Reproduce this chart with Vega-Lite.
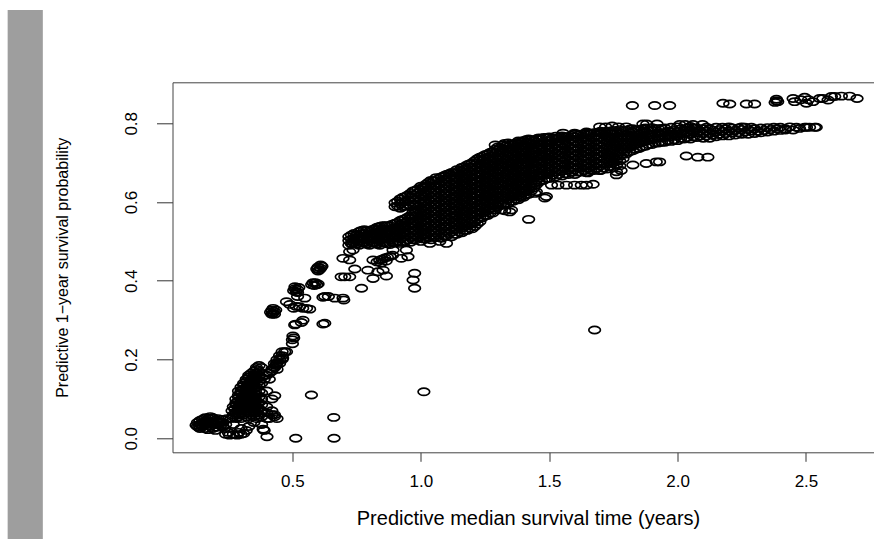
{
"$schema": "https://vega.github.io/schema/vega-lite/v6.json",
"width": 701.5,
"height": 370,
"autosize": "none",
"padding": {"left": 172.5, "top": 82.3, "right": 0, "bottom": 86.7},
"background": "white",
"config": {"view": {"stroke": null}, "font": "Liberation Sans"},
"resolve": {"axis": {"x": "independent"}},
"layer": [
{
"data": {"values": [{}]},
"mark": {"type": "rect", "color": "#9e9e9e"},
"encoding": {
"x": {"datum": -0.609, "type": "quantitative", "scale": {"domain": [0.033, 2.765], "nice": false, "zero": false}, "axis": {"orient": "top", "labels": false, "ticks": false, "domain": true, "domainColor": "#444", "domainWidth": 1, "grid": false, "title": null}},
"x2": {"datum": -0.472},
"y": {"datum": 1.088, "type": "quantitative", "scale": {"domain": [-0.0356, 0.9041], "nice": false, "zero": false}},
"y2": {"datum": -0.256}
}
},
{
"data": {"values": [
{"t":0.125,"p":0.033},{"t":0.13,"p":0.04},{"t":0.135,"p":0.028},{"t":0.14,"p":0.045},{"t":0.145,"p":0.035},{"t":0.15,"p":0.03},{"t":0.15,"p":0.048},{"t":0.155,"p":0.04},{"t":0.16,"p":0.025},{"t":0.165,"p":0.045},{"t":0.17,"p":0.035},{"t":0.175,"p":0.05},{"t":0.18,"p":0.03},{"t":0.185,"p":0.042},{"t":0.19,"p":0.052},{"t":0.195,"p":0.036},{"t":0.2,"p":0.046},{"t":0.205,"p":0.028},{"t":0.21,"p":0.05},{"t":0.215,"p":0.04},{"t":0.22,"p":0.032},{"t":0.225,"p":0.048},{"t":0.23,"p":0.04},{"t":0.14,"p":0.025},{"t":0.17,"p":0.022},{"t":0.2,"p":0.02},{"t":0.24,"p":0.035},{"t":0.245,"p":0.05},{"t":0.16,"p":0.052},{"t":0.19,"p":0.025},{"t":0.235,"p":0.025},{"t":0.13,"p":0.03},{"t":0.21,"p":0.035},{"t":0.18,"p":0.055},
{"t":0.14,"p":0.035},{"t":0.16,"p":0.035},{"t":0.18,"p":0.042},{"t":0.2,"p":0.035},{"t":0.22,"p":0.042},{"t":0.15,"p":0.04},{"t":0.17,"p":0.045},{"t":0.19,"p":0.04},{"t":0.21,"p":0.043},{"t":0.23,"p":0.03},
{"t":0.24,"p":0.01},{"t":0.255,"p":0.008},{"t":0.27,"p":0.01},{"t":0.285,"p":0.008},{"t":0.3,"p":0.01},{"t":0.31,"p":0.012},{"t":0.25,"p":0.015},{"t":0.29,"p":0.015},
{"t":0.26,"p":0.05},{"t":0.28,"p":0.05},{"t":0.30,"p":0.05},{"t":0.33,"p":0.05},{"t":0.36,"p":0.05},{"t":0.40,"p":0.05},{"t":0.44,"p":0.05},
{"t":0.27,"p":0.06},{"t":0.29,"p":0.06},{"t":0.31,"p":0.06},{"t":0.34,"p":0.06},{"t":0.37,"p":0.06},{"t":0.42,"p":0.06},
{"t":0.265,"p":0.07},{"t":0.285,"p":0.07},{"t":0.3,"p":0.07},{"t":0.32,"p":0.07},{"t":0.35,"p":0.07},{"t":0.38,"p":0.07},
{"t":0.27,"p":0.08},{"t":0.29,"p":0.08},{"t":0.31,"p":0.08},{"t":0.33,"p":0.08},{"t":0.36,"p":0.08},{"t":0.40,"p":0.08},
{"t":0.28,"p":0.09},{"t":0.3,"p":0.09},{"t":0.32,"p":0.09},{"t":0.34,"p":0.09},{"t":0.37,"p":0.09},
{"t":0.28,"p":0.1},{"t":0.3,"p":0.1},{"t":0.31,"p":0.1},{"t":0.33,"p":0.1},{"t":0.35,"p":0.1},{"t":0.38,"p":0.1},{"t":0.42,"p":0.1},
{"t":0.29,"p":0.11},{"t":0.31,"p":0.11},{"t":0.33,"p":0.11},{"t":0.36,"p":0.11},
{"t":0.29,"p":0.12},{"t":0.3,"p":0.12},{"t":0.32,"p":0.12},{"t":0.34,"p":0.12},{"t":0.37,"p":0.12},{"t":0.4,"p":0.12},
{"t":0.3,"p":0.13},{"t":0.32,"p":0.13},{"t":0.34,"p":0.13},{"t":0.36,"p":0.13},
{"t":0.31,"p":0.14},{"t":0.33,"p":0.14},{"t":0.35,"p":0.14},{"t":0.38,"p":0.14},
{"t":0.32,"p":0.15},{"t":0.34,"p":0.15},{"t":0.36,"p":0.15},{"t":0.39,"p":0.15},{"t":0.41,"p":0.15},
{"t":0.33,"p":0.16},{"t":0.35,"p":0.16},{"t":0.37,"p":0.16},{"t":0.4,"p":0.16},
{"t":0.35,"p":0.17},{"t":0.37,"p":0.17},{"t":0.42,"p":0.17},
{"t":0.36,"p":0.18},{"t":0.38,"p":0.18},{"t":0.43,"p":0.18},
{"t":0.43,"p":0.19},{"t":0.44,"p":0.19},{"t":0.45,"p":0.19},
{"t":0.44,"p":0.2},{"t":0.45,"p":0.2},{"t":0.46,"p":0.2},
{"t":0.45,"p":0.21},{"t":0.46,"p":0.21},{"t":0.46,"p":0.22},{"t":0.47,"p":0.22},
{"t":0.27,"p":0.055},{"t":0.29,"p":0.055},{"t":0.32,"p":0.055},{"t":0.35,"p":0.055},{"t":0.38,"p":0.055},{"t":0.43,"p":0.055},
{"t":0.28,"p":0.065},{"t":0.30,"p":0.065},{"t":0.33,"p":0.065},{"t":0.36,"p":0.065},{"t":0.40,"p":0.065},
{"t":0.275,"p":0.075},{"t":0.295,"p":0.075},{"t":0.31,"p":0.075},{"t":0.34,"p":0.075},{"t":0.37,"p":0.075},
{"t":0.28,"p":0.085},{"t":0.30,"p":0.085},{"t":0.32,"p":0.085},{"t":0.35,"p":0.085},{"t":0.38,"p":0.085},
{"t":0.29,"p":0.095},{"t":0.31,"p":0.095},{"t":0.33,"p":0.095},{"t":0.36,"p":0.095},
{"t":0.29,"p":0.105},{"t":0.32,"p":0.105},{"t":0.34,"p":0.105},{"t":0.37,"p":0.105},
{"t":0.30,"p":0.115},{"t":0.32,"p":0.115},{"t":0.35,"p":0.115},{"t":0.38,"p":0.115},
{"t":0.31,"p":0.125},{"t":0.33,"p":0.125},{"t":0.35,"p":0.125},
{"t":0.31,"p":0.135},{"t":0.33,"p":0.135},{"t":0.35,"p":0.135},{"t":0.37,"p":0.135},
{"t":0.32,"p":0.145},{"t":0.34,"p":0.145},{"t":0.37,"p":0.145},
{"t":0.33,"p":0.155},{"t":0.35,"p":0.155},{"t":0.38,"p":0.155},
{"t":0.34,"p":0.165},{"t":0.36,"p":0.165},{"t":0.41,"p":0.165},
{"t":0.36,"p":0.175},{"t":0.42,"p":0.175},{"t":0.37,"p":0.185},{"t":0.435,"p":0.185},
{"t":0.33,"p":0.03},{"t":0.35,"p":0.04},{"t":0.3,"p":0.025},{"t":0.38,"p":0.035},{"t":0.27,"p":0.035},{"t":0.32,"p":0.02},{"t":0.39,"p":0.02},{"t":0.401,"p":0.004},{"t":0.386,"p":0.023},{"t":0.431,"p":0.108},{"t":0.574,"p":0.11},{"t":0.513,"p":0.0},{"t":0.662,"p":0.0},{"t":0.661,"p":0.053},{"t":0.42,"p":0.07},{"t":0.41,"p":0.05},{"t":0.43,"p":0.06},{"t":1.012,"p":0.118},{"t":1.677,"p":0.275},
{"t":0.43,"p":0.18},{"t":0.44,"p":0.175},{"t":0.462,"p":0.204},{"t":0.477,"p":0.22},{"t":0.438,"p":0.19},{"t":0.5,"p":0.24},{"t":0.5,"p":0.25},{"t":0.505,"p":0.255},{"t":0.502,"p":0.26},{"t":0.509,"p":0.288},{"t":0.513,"p":0.29},{"t":0.535,"p":0.294},{"t":0.541,"p":0.3},{"t":0.619,"p":0.29},{"t":0.626,"p":0.292},
{"t":0.415,"p":0.32},{"t":0.42,"p":0.325},{"t":0.425,"p":0.318},{"t":0.43,"p":0.322},{"t":0.435,"p":0.326},{"t":0.425,"p":0.33},{"t":0.42,"p":0.315},{"t":0.43,"p":0.315},
{"t":0.477,"p":0.347},{"t":0.49,"p":0.34},{"t":0.505,"p":0.33},{"t":0.515,"p":0.335},{"t":0.528,"p":0.334},{"t":0.54,"p":0.33},{"t":0.555,"p":0.33},{"t":0.567,"p":0.328},{"t":0.548,"p":0.356},{"t":0.52,"p":0.36},{"t":0.619,"p":0.358},{"t":0.665,"p":0.356},{"t":0.70,"p":0.351},{"t":0.64,"p":0.36},{"t":0.626,"p":0.36},{"t":0.697,"p":0.356},
{"t":0.505,"p":0.375},{"t":0.51,"p":0.38},{"t":0.515,"p":0.372},{"t":0.52,"p":0.378},{"t":0.525,"p":0.383},{"t":0.51,"p":0.385},{"t":0.52,"p":0.37},
{"t":0.575,"p":0.39},{"t":0.58,"p":0.395},{"t":0.585,"p":0.388},{"t":0.59,"p":0.395},{"t":0.595,"p":0.39},{"t":0.6,"p":0.392},
{"t":0.595,"p":0.43},{"t":0.6,"p":0.435},{"t":0.605,"p":0.428},{"t":0.61,"p":0.432},{"t":0.615,"p":0.437},{"t":0.6,"p":0.425},{"t":0.61,"p":0.44},
{"t":0.69,"p":0.41},{"t":0.704,"p":0.41},{"t":0.723,"p":0.41},{"t":0.743,"p":0.43},{"t":0.723,"p":0.474},{"t":0.73,"p":0.495},{"t":0.736,"p":0.478},{"t":0.723,"p":0.453},{"t":0.697,"p":0.457},{"t":0.736,"p":0.50},
{"t":0.794,"p":0.427},{"t":0.853,"p":0.427},{"t":0.814,"p":0.406},{"t":0.833,"p":0.423},{"t":0.866,"p":0.412},{"t":0.769,"p":0.381},
{"t":0.83,"p":0.448},{"t":0.84,"p":0.452},{"t":0.85,"p":0.455},{"t":0.86,"p":0.458},{"t":0.87,"p":0.46},{"t":0.88,"p":0.462},{"t":0.845,"p":0.445},{"t":0.865,"p":0.45},{"t":0.89,"p":0.465},{"t":0.814,"p":0.453},
{"t":0.976,"p":0.419},{"t":0.970,"p":0.402},{"t":0.976,"p":0.381},{"t":0.924,"p":0.457},{"t":0.950,"p":0.461},{"t":0.892,"p":0.478},{"t":0.944,"p":0.478},{"t":1.10,"p":0.495},{"t":1.035,"p":0.495},{"t":1.074,"p":0.5},
{"t":0.72,"p":0.49},{"t":0.72,"p":0.502},{"t":0.72,"p":0.512},
{"t":0.74,"p":0.496},{"t":0.74,"p":0.508},{"t":0.74,"p":0.52},
{"t":0.76,"p":0.49},{"t":0.76,"p":0.502},{"t":0.76,"p":0.514},{"t":0.76,"p":0.525},
{"t":0.78,"p":0.496},{"t":0.78,"p":0.508},{"t":0.78,"p":0.52},{"t":0.78,"p":0.53},
{"t":0.80,"p":0.49},{"t":0.80,"p":0.502},{"t":0.80,"p":0.514},{"t":0.80,"p":0.526},
{"t":0.82,"p":0.496},{"t":0.82,"p":0.508},{"t":0.82,"p":0.52},{"t":0.82,"p":0.532},
{"t":0.84,"p":0.49},{"t":0.84,"p":0.502},{"t":0.84,"p":0.514},{"t":0.84,"p":0.526},{"t":0.84,"p":0.538},
{"t":0.86,"p":0.496},{"t":0.86,"p":0.508},{"t":0.86,"p":0.52},{"t":0.86,"p":0.532},{"t":0.86,"p":0.54},
{"t":0.88,"p":0.492},{"t":0.88,"p":0.504},{"t":0.88,"p":0.516},{"t":0.88,"p":0.528},{"t":0.88,"p":0.54},
{"t":0.90,"p":0.498},{"t":0.90,"p":0.51},{"t":0.90,"p":0.522},{"t":0.90,"p":0.534},{"t":0.90,"p":0.546},{"t":0.90,"p":0.588},{"t":0.90,"p":0.598},
{"t":0.92,"p":0.495},{"t":0.92,"p":0.507},{"t":0.92,"p":0.519},{"t":0.92,"p":0.531},{"t":0.92,"p":0.543},{"t":0.92,"p":0.553},{"t":0.92,"p":0.584},{"t":0.92,"p":0.596},{"t":0.92,"p":0.608},
{"t":0.94,"p":0.5},{"t":0.94,"p":0.512},{"t":0.94,"p":0.524},{"t":0.94,"p":0.536},{"t":0.94,"p":0.548},{"t":0.94,"p":0.558},{"t":0.94,"p":0.59},{"t":0.94,"p":0.602},{"t":0.94,"p":0.614},
{"t":0.96,"p":0.498},{"t":0.96,"p":0.51},{"t":0.96,"p":0.522},{"t":0.96,"p":0.534},{"t":0.96,"p":0.546},{"t":0.96,"p":0.558},{"t":0.96,"p":0.566},{"t":0.96,"p":0.588},{"t":0.96,"p":0.6},{"t":0.96,"p":0.612},{"t":0.96,"p":0.622},
{"t":0.98,"p":0.504},{"t":0.98,"p":0.516},{"t":0.98,"p":0.528},{"t":0.98,"p":0.54},{"t":0.98,"p":0.552},{"t":0.98,"p":0.564},{"t":0.98,"p":0.576},{"t":0.98,"p":0.594},{"t":0.98,"p":0.606},{"t":0.98,"p":0.618},{"t":0.98,"p":0.63},
{"t":1.0,"p":0.5},{"t":1.0,"p":0.512},{"t":1.0,"p":0.524},{"t":1.0,"p":0.536},{"t":1.0,"p":0.548},{"t":1.0,"p":0.56},{"t":1.0,"p":0.572},{"t":1.0,"p":0.584},{"t":1.0,"p":0.596},{"t":1.0,"p":0.608},{"t":1.0,"p":0.62},{"t":1.0,"p":0.632},{"t":1.0,"p":0.64},
{"t":1.02,"p":0.506},{"t":1.02,"p":0.518},{"t":1.02,"p":0.53},{"t":1.02,"p":0.542},{"t":1.02,"p":0.554},{"t":1.02,"p":0.566},{"t":1.02,"p":0.578},{"t":1.02,"p":0.59},{"t":1.02,"p":0.602},{"t":1.02,"p":0.614},{"t":1.02,"p":0.626},{"t":1.02,"p":0.638},{"t":1.02,"p":0.645},
{"t":1.04,"p":0.504},{"t":1.04,"p":0.516},{"t":1.04,"p":0.528},{"t":1.04,"p":0.54},{"t":1.04,"p":0.552},{"t":1.04,"p":0.564},{"t":1.04,"p":0.576},{"t":1.04,"p":0.588},{"t":1.04,"p":0.6},{"t":1.04,"p":0.612},{"t":1.04,"p":0.624},{"t":1.04,"p":0.636},{"t":1.04,"p":0.648},{"t":1.04,"p":0.655},
{"t":1.06,"p":0.51},{"t":1.06,"p":0.522},{"t":1.06,"p":0.534},{"t":1.06,"p":0.546},{"t":1.06,"p":0.558},{"t":1.06,"p":0.57},{"t":1.06,"p":0.582},{"t":1.06,"p":0.594},{"t":1.06,"p":0.606},{"t":1.06,"p":0.618},{"t":1.06,"p":0.63},{"t":1.06,"p":0.642},{"t":1.06,"p":0.654},{"t":1.06,"p":0.662},
{"t":1.08,"p":0.508},{"t":1.08,"p":0.52},{"t":1.08,"p":0.532},{"t":1.08,"p":0.544},{"t":1.08,"p":0.556},{"t":1.08,"p":0.568},{"t":1.08,"p":0.58},{"t":1.08,"p":0.592},{"t":1.08,"p":0.604},{"t":1.08,"p":0.616},{"t":1.08,"p":0.628},{"t":1.08,"p":0.64},{"t":1.08,"p":0.652},{"t":1.08,"p":0.664},
{"t":1.1,"p":0.514},{"t":1.1,"p":0.526},{"t":1.1,"p":0.538},{"t":1.1,"p":0.55},{"t":1.1,"p":0.562},{"t":1.1,"p":0.574},{"t":1.1,"p":0.586},{"t":1.1,"p":0.598},{"t":1.1,"p":0.61},{"t":1.1,"p":0.622},{"t":1.1,"p":0.634},{"t":1.1,"p":0.646},{"t":1.1,"p":0.658},{"t":1.1,"p":0.67},
{"t":1.12,"p":0.512},{"t":1.12,"p":0.524},{"t":1.12,"p":0.536},{"t":1.12,"p":0.548},{"t":1.12,"p":0.56},{"t":1.12,"p":0.572},{"t":1.12,"p":0.584},{"t":1.12,"p":0.596},{"t":1.12,"p":0.608},{"t":1.12,"p":0.62},{"t":1.12,"p":0.632},{"t":1.12,"p":0.644},{"t":1.12,"p":0.656},{"t":1.12,"p":0.668},{"t":1.12,"p":0.675},
{"t":1.14,"p":0.518},{"t":1.14,"p":0.53},{"t":1.14,"p":0.542},{"t":1.14,"p":0.554},{"t":1.14,"p":0.566},{"t":1.14,"p":0.578},{"t":1.14,"p":0.59},{"t":1.14,"p":0.602},{"t":1.14,"p":0.614},{"t":1.14,"p":0.626},{"t":1.14,"p":0.638},{"t":1.14,"p":0.65},{"t":1.14,"p":0.662},{"t":1.14,"p":0.674},{"t":1.14,"p":0.682},
{"t":1.16,"p":0.522},{"t":1.16,"p":0.534},{"t":1.16,"p":0.546},{"t":1.16,"p":0.558},{"t":1.16,"p":0.57},{"t":1.16,"p":0.582},{"t":1.16,"p":0.594},{"t":1.16,"p":0.606},{"t":1.16,"p":0.618},{"t":1.16,"p":0.63},{"t":1.16,"p":0.642},{"t":1.16,"p":0.654},{"t":1.16,"p":0.666},{"t":1.16,"p":0.678},{"t":1.16,"p":0.688},
{"t":1.18,"p":0.528},{"t":1.18,"p":0.54},{"t":1.18,"p":0.552},{"t":1.18,"p":0.564},{"t":1.18,"p":0.576},{"t":1.18,"p":0.588},{"t":1.18,"p":0.6},{"t":1.18,"p":0.612},{"t":1.18,"p":0.624},{"t":1.18,"p":0.636},{"t":1.18,"p":0.648},{"t":1.18,"p":0.66},{"t":1.18,"p":0.672},{"t":1.18,"p":0.684},{"t":1.18,"p":0.694},
{"t":1.2,"p":0.532},{"t":1.2,"p":0.544},{"t":1.2,"p":0.556},{"t":1.2,"p":0.568},{"t":1.2,"p":0.58},{"t":1.2,"p":0.592},{"t":1.2,"p":0.604},{"t":1.2,"p":0.616},{"t":1.2,"p":0.628},{"t":1.2,"p":0.64},{"t":1.2,"p":0.652},{"t":1.2,"p":0.664},{"t":1.2,"p":0.676},{"t":1.2,"p":0.688},{"t":1.2,"p":0.7},
{"t":1.22,"p":0.544},{"t":1.22,"p":0.556},{"t":1.22,"p":0.568},{"t":1.22,"p":0.58},{"t":1.22,"p":0.592},{"t":1.22,"p":0.604},{"t":1.22,"p":0.616},{"t":1.22,"p":0.628},{"t":1.22,"p":0.64},{"t":1.22,"p":0.652},{"t":1.22,"p":0.664},{"t":1.22,"p":0.676},{"t":1.22,"p":0.688},{"t":1.22,"p":0.7},{"t":1.22,"p":0.71},
{"t":1.24,"p":0.56},{"t":1.24,"p":0.572},{"t":1.24,"p":0.584},{"t":1.24,"p":0.596},{"t":1.24,"p":0.608},{"t":1.24,"p":0.62},{"t":1.24,"p":0.632},{"t":1.24,"p":0.644},{"t":1.24,"p":0.656},{"t":1.24,"p":0.668},{"t":1.24,"p":0.68},{"t":1.24,"p":0.692},{"t":1.24,"p":0.704},{"t":1.24,"p":0.716},
{"t":1.26,"p":0.566},{"t":1.26,"p":0.578},{"t":1.26,"p":0.59},{"t":1.26,"p":0.602},{"t":1.26,"p":0.614},{"t":1.26,"p":0.626},{"t":1.26,"p":0.638},{"t":1.26,"p":0.65},{"t":1.26,"p":0.662},{"t":1.26,"p":0.674},{"t":1.26,"p":0.686},{"t":1.26,"p":0.698},{"t":1.26,"p":0.71},{"t":1.26,"p":0.722},
{"t":1.28,"p":0.572},{"t":1.28,"p":0.584},{"t":1.28,"p":0.596},{"t":1.28,"p":0.608},{"t":1.28,"p":0.62},{"t":1.28,"p":0.632},{"t":1.28,"p":0.644},{"t":1.28,"p":0.656},{"t":1.28,"p":0.668},{"t":1.28,"p":0.68},{"t":1.28,"p":0.692},{"t":1.28,"p":0.704},{"t":1.28,"p":0.716},{"t":1.28,"p":0.728},
{"t":1.3,"p":0.588},{"t":1.3,"p":0.6},{"t":1.3,"p":0.612},{"t":1.3,"p":0.624},{"t":1.3,"p":0.636},{"t":1.3,"p":0.648},{"t":1.3,"p":0.66},{"t":1.3,"p":0.672},{"t":1.3,"p":0.684},{"t":1.3,"p":0.696},{"t":1.3,"p":0.708},{"t":1.3,"p":0.72},{"t":1.3,"p":0.732},{"t":1.3,"p":0.74},
{"t":1.32,"p":0.592},{"t":1.32,"p":0.604},{"t":1.32,"p":0.616},{"t":1.32,"p":0.628},{"t":1.32,"p":0.64},{"t":1.32,"p":0.652},{"t":1.32,"p":0.664},{"t":1.32,"p":0.676},{"t":1.32,"p":0.688},{"t":1.32,"p":0.7},{"t":1.32,"p":0.712},{"t":1.32,"p":0.724},{"t":1.32,"p":0.736},{"t":1.32,"p":0.745},
{"t":1.34,"p":0.596},{"t":1.34,"p":0.608},{"t":1.34,"p":0.62},{"t":1.34,"p":0.632},{"t":1.34,"p":0.644},{"t":1.34,"p":0.656},{"t":1.34,"p":0.668},{"t":1.34,"p":0.68},{"t":1.34,"p":0.692},{"t":1.34,"p":0.704},{"t":1.34,"p":0.716},{"t":1.34,"p":0.728},{"t":1.34,"p":0.74},{"t":1.34,"p":0.75},
{"t":1.36,"p":0.602},{"t":1.36,"p":0.614},{"t":1.36,"p":0.626},{"t":1.36,"p":0.638},{"t":1.36,"p":0.65},{"t":1.36,"p":0.662},{"t":1.36,"p":0.674},{"t":1.36,"p":0.686},{"t":1.36,"p":0.698},{"t":1.36,"p":0.71},{"t":1.36,"p":0.722},{"t":1.36,"p":0.734},{"t":1.36,"p":0.746},
{"t":1.38,"p":0.606},{"t":1.38,"p":0.618},{"t":1.38,"p":0.63},{"t":1.38,"p":0.642},{"t":1.38,"p":0.654},{"t":1.38,"p":0.666},{"t":1.38,"p":0.678},{"t":1.38,"p":0.69},{"t":1.38,"p":0.702},{"t":1.38,"p":0.714},{"t":1.38,"p":0.726},{"t":1.38,"p":0.738},{"t":1.38,"p":0.75},{"t":1.38,"p":0.755},
{"t":1.4,"p":0.612},{"t":1.4,"p":0.624},{"t":1.4,"p":0.636},{"t":1.4,"p":0.648},{"t":1.4,"p":0.66},{"t":1.4,"p":0.672},{"t":1.4,"p":0.684},{"t":1.4,"p":0.696},{"t":1.4,"p":0.708},{"t":1.4,"p":0.72},{"t":1.4,"p":0.732},{"t":1.4,"p":0.744},{"t":1.4,"p":0.756},
{"t":1.42,"p":0.62},{"t":1.42,"p":0.632},{"t":1.42,"p":0.644},{"t":1.42,"p":0.656},{"t":1.42,"p":0.668},{"t":1.42,"p":0.68},{"t":1.42,"p":0.692},{"t":1.42,"p":0.704},{"t":1.42,"p":0.716},{"t":1.42,"p":0.728},{"t":1.42,"p":0.74},{"t":1.42,"p":0.752},{"t":1.42,"p":0.76},
{"t":1.44,"p":0.636},{"t":1.44,"p":0.648},{"t":1.44,"p":0.66},{"t":1.44,"p":0.672},{"t":1.44,"p":0.684},{"t":1.44,"p":0.696},{"t":1.44,"p":0.708},{"t":1.44,"p":0.72},{"t":1.44,"p":0.732},{"t":1.44,"p":0.744},{"t":1.44,"p":0.756},
{"t":1.46,"p":0.65},{"t":1.46,"p":0.662},{"t":1.46,"p":0.674},{"t":1.46,"p":0.686},{"t":1.46,"p":0.698},{"t":1.46,"p":0.71},{"t":1.46,"p":0.722},{"t":1.46,"p":0.734},{"t":1.46,"p":0.746},{"t":1.46,"p":0.758},{"t":1.46,"p":0.763},
{"t":1.48,"p":0.656},{"t":1.48,"p":0.668},{"t":1.48,"p":0.68},{"t":1.48,"p":0.692},{"t":1.48,"p":0.704},{"t":1.48,"p":0.716},{"t":1.48,"p":0.728},{"t":1.48,"p":0.74},{"t":1.48,"p":0.752},{"t":1.48,"p":0.764},
{"t":1.5,"p":0.66},{"t":1.5,"p":0.672},{"t":1.5,"p":0.684},{"t":1.5,"p":0.696},{"t":1.5,"p":0.708},{"t":1.5,"p":0.72},{"t":1.5,"p":0.732},{"t":1.5,"p":0.744},{"t":1.5,"p":0.756},{"t":1.5,"p":0.765},
{"t":1.525,"p":0.664},{"t":1.525,"p":0.676},{"t":1.525,"p":0.688},{"t":1.525,"p":0.7},{"t":1.525,"p":0.712},{"t":1.525,"p":0.724},{"t":1.525,"p":0.736},{"t":1.525,"p":0.748},{"t":1.525,"p":0.76},{"t":1.525,"p":0.767},
{"t":1.55,"p":0.666},{"t":1.55,"p":0.678},{"t":1.55,"p":0.69},{"t":1.55,"p":0.702},{"t":1.55,"p":0.714},{"t":1.55,"p":0.726},{"t":1.55,"p":0.738},{"t":1.55,"p":0.75},{"t":1.55,"p":0.762},{"t":1.55,"p":0.768},
{"t":1.575,"p":0.67},{"t":1.575,"p":0.682},{"t":1.575,"p":0.694},{"t":1.575,"p":0.706},{"t":1.575,"p":0.718},{"t":1.575,"p":0.73},{"t":1.575,"p":0.742},{"t":1.575,"p":0.754},{"t":1.575,"p":0.766},
{"t":1.6,"p":0.67},{"t":1.6,"p":0.682},{"t":1.6,"p":0.694},{"t":1.6,"p":0.706},{"t":1.6,"p":0.718},{"t":1.6,"p":0.73},{"t":1.6,"p":0.742},{"t":1.6,"p":0.754},{"t":1.6,"p":0.766},{"t":1.6,"p":0.772},
{"t":1.625,"p":0.676},{"t":1.625,"p":0.688},{"t":1.625,"p":0.7},{"t":1.625,"p":0.712},{"t":1.625,"p":0.724},{"t":1.625,"p":0.736},{"t":1.625,"p":0.748},{"t":1.625,"p":0.76},{"t":1.625,"p":0.772},
{"t":1.65,"p":0.674},{"t":1.65,"p":0.686},{"t":1.65,"p":0.698},{"t":1.65,"p":0.71},{"t":1.65,"p":0.722},{"t":1.65,"p":0.734},{"t":1.65,"p":0.746},{"t":1.65,"p":0.758},{"t":1.65,"p":0.77},{"t":1.65,"p":0.776},
{"t":1.675,"p":0.68},{"t":1.675,"p":0.692},{"t":1.675,"p":0.704},{"t":1.675,"p":0.716},{"t":1.675,"p":0.728},{"t":1.675,"p":0.74},{"t":1.675,"p":0.752},{"t":1.675,"p":0.764},{"t":1.675,"p":0.776},
{"t":1.7,"p":0.68},{"t":1.7,"p":0.692},{"t":1.7,"p":0.704},{"t":1.7,"p":0.716},{"t":1.7,"p":0.728},{"t":1.7,"p":0.74},{"t":1.7,"p":0.752},{"t":1.7,"p":0.764},{"t":1.7,"p":0.776},{"t":1.7,"p":0.78},
{"t":1.725,"p":0.684},{"t":1.725,"p":0.696},{"t":1.725,"p":0.708},{"t":1.725,"p":0.72},{"t":1.725,"p":0.732},{"t":1.725,"p":0.744},{"t":1.725,"p":0.756},{"t":1.725,"p":0.768},{"t":1.725,"p":0.78},
{"t":1.75,"p":0.688},{"t":1.75,"p":0.7},{"t":1.75,"p":0.712},{"t":1.75,"p":0.724},{"t":1.75,"p":0.736},{"t":1.75,"p":0.748},{"t":1.75,"p":0.76},{"t":1.75,"p":0.772},{"t":1.75,"p":0.782},
{"t":1.775,"p":0.692},{"t":1.775,"p":0.704},{"t":1.775,"p":0.716},{"t":1.775,"p":0.728},{"t":1.775,"p":0.74},{"t":1.775,"p":0.752},{"t":1.775,"p":0.764},{"t":1.775,"p":0.776},{"t":1.775,"p":0.784},
{"t":1.8,"p":0.722},{"t":1.8,"p":0.734},{"t":1.8,"p":0.746},{"t":1.8,"p":0.758},{"t":1.8,"p":0.77},{"t":1.8,"p":0.782},
{"t":1.825,"p":0.73},{"t":1.825,"p":0.742},{"t":1.825,"p":0.754},{"t":1.825,"p":0.766},{"t":1.825,"p":0.778},{"t":1.825,"p":0.786},
{"t":1.85,"p":0.736},{"t":1.85,"p":0.748},{"t":1.85,"p":0.76},{"t":1.85,"p":0.772},{"t":1.85,"p":0.784},
{"t":1.875,"p":0.742},{"t":1.875,"p":0.754},{"t":1.875,"p":0.766},{"t":1.875,"p":0.778},{"t":1.875,"p":0.788},
{"t":1.9,"p":0.746},{"t":1.9,"p":0.758},{"t":1.9,"p":0.77},{"t":1.9,"p":0.782},{"t":1.9,"p":0.789},
{"t":1.925,"p":0.75},{"t":1.925,"p":0.762},{"t":1.925,"p":0.774},{"t":1.925,"p":0.786},
{"t":1.95,"p":0.752},{"t":1.95,"p":0.764},{"t":1.95,"p":0.776},{"t":1.95,"p":0.788},
{"t":1.975,"p":0.754},{"t":1.975,"p":0.766},{"t":1.975,"p":0.778},{"t":1.975,"p":0.79},
{"t":2.0,"p":0.756},{"t":2.0,"p":0.768},{"t":2.0,"p":0.78},{"t":2.0,"p":0.791},
{"t":2.025,"p":0.76},{"t":2.025,"p":0.772},{"t":2.025,"p":0.784},
{"t":2.05,"p":0.76},{"t":2.05,"p":0.772},{"t":2.05,"p":0.784},{"t":2.05,"p":0.792},
{"t":2.075,"p":0.764},{"t":2.075,"p":0.776},{"t":2.075,"p":0.788},
{"t":2.1,"p":0.762},{"t":2.1,"p":0.774},{"t":2.1,"p":0.786},
{"t":2.125,"p":0.762},{"t":2.125,"p":0.774},{"t":2.125,"p":0.786},
{"t":2.15,"p":0.766},{"t":2.15,"p":0.778},{"t":2.15,"p":0.79},
{"t":2.175,"p":0.768},{"t":2.175,"p":0.78},{"t":2.175,"p":0.79},
{"t":2.2,"p":0.768},{"t":2.2,"p":0.78},{"t":2.2,"p":0.791},
{"t":2.225,"p":0.77},{"t":2.225,"p":0.782},
{"t":2.25,"p":0.772},{"t":2.25,"p":0.784},{"t":2.25,"p":0.791},
{"t":2.275,"p":0.772},{"t":2.275,"p":0.784},
{"t":2.3,"p":0.774},{"t":2.3,"p":0.786},
{"t":2.325,"p":0.776},{"t":2.325,"p":0.788},
{"t":2.35,"p":0.778},{"t":2.35,"p":0.789},
{"t":2.375,"p":0.78},{"t":2.375,"p":0.79},
{"t":2.4,"p":0.782},{"t":2.42,"p":0.786},
{"t":0.73,"p":0.494},{"t":0.73,"p":0.506},{"t":0.73,"p":0.516},
{"t":0.75,"p":0.493},{"t":0.75,"p":0.505},{"t":0.75,"p":0.517},
{"t":0.77,"p":0.496},{"t":0.77,"p":0.508},{"t":0.77,"p":0.52},{"t":0.77,"p":0.528},
{"t":0.79,"p":0.493},{"t":0.79,"p":0.505},{"t":0.79,"p":0.517},{"t":0.79,"p":0.528},
{"t":0.81,"p":0.496},{"t":0.81,"p":0.508},{"t":0.81,"p":0.52},{"t":0.81,"p":0.53},
{"t":0.83,"p":0.493},{"t":0.83,"p":0.505},{"t":0.83,"p":0.517},{"t":0.83,"p":0.529},{"t":0.83,"p":0.536},
{"t":0.85,"p":0.496},{"t":0.85,"p":0.508},{"t":0.85,"p":0.52},{"t":0.85,"p":0.532},{"t":0.85,"p":0.54},
{"t":0.87,"p":0.494},{"t":0.87,"p":0.506},{"t":0.87,"p":0.518},{"t":0.87,"p":0.53},{"t":0.87,"p":0.54},
{"t":0.89,"p":0.498},{"t":0.89,"p":0.51},{"t":0.89,"p":0.522},{"t":0.89,"p":0.534},{"t":0.89,"p":0.544},
{"t":0.91,"p":0.5},{"t":0.91,"p":0.512},{"t":0.91,"p":0.524},{"t":0.91,"p":0.536},{"t":0.91,"p":0.548},{"t":0.91,"p":0.59},{"t":0.91,"p":0.602},
{"t":0.93,"p":0.498},{"t":0.93,"p":0.51},{"t":0.93,"p":0.522},{"t":0.93,"p":0.534},{"t":0.93,"p":0.546},{"t":0.93,"p":0.556},{"t":0.93,"p":0.588},{"t":0.93,"p":0.6},{"t":0.93,"p":0.612},
{"t":0.95,"p":0.504},{"t":0.95,"p":0.516},{"t":0.95,"p":0.528},{"t":0.95,"p":0.54},{"t":0.95,"p":0.552},{"t":0.95,"p":0.562},{"t":0.95,"p":0.594},{"t":0.95,"p":0.606},{"t":0.95,"p":0.618},
{"t":0.97,"p":0.504},{"t":0.97,"p":0.516},{"t":0.97,"p":0.528},{"t":0.97,"p":0.54},{"t":0.97,"p":0.552},{"t":0.97,"p":0.564},{"t":0.97,"p":0.574},{"t":0.97,"p":0.594},{"t":0.97,"p":0.606},{"t":0.97,"p":0.618},{"t":0.97,"p":0.628},
{"t":0.99,"p":0.51},{"t":0.99,"p":0.522},{"t":0.99,"p":0.534},{"t":0.99,"p":0.546},{"t":0.99,"p":0.558},{"t":0.99,"p":0.57},{"t":0.99,"p":0.582},{"t":0.99,"p":0.6},{"t":0.99,"p":0.612},{"t":0.99,"p":0.624},{"t":0.99,"p":0.634},
{"t":1.01,"p":0.506},{"t":1.01,"p":0.518},{"t":1.01,"p":0.53},{"t":1.01,"p":0.542},{"t":1.01,"p":0.554},{"t":1.01,"p":0.566},{"t":1.01,"p":0.578},{"t":1.01,"p":0.59},{"t":1.01,"p":0.602},{"t":1.01,"p":0.614},{"t":1.01,"p":0.626},{"t":1.01,"p":0.638},
{"t":1.03,"p":0.51},{"t":1.03,"p":0.522},{"t":1.03,"p":0.534},{"t":1.03,"p":0.546},{"t":1.03,"p":0.558},{"t":1.03,"p":0.57},{"t":1.03,"p":0.582},{"t":1.03,"p":0.594},{"t":1.03,"p":0.606},{"t":1.03,"p":0.618},{"t":1.03,"p":0.63},{"t":1.03,"p":0.642},{"t":1.03,"p":0.65},
{"t":1.05,"p":0.51},{"t":1.05,"p":0.522},{"t":1.05,"p":0.534},{"t":1.05,"p":0.546},{"t":1.05,"p":0.558},{"t":1.05,"p":0.57},{"t":1.05,"p":0.582},{"t":1.05,"p":0.594},{"t":1.05,"p":0.606},{"t":1.05,"p":0.618},{"t":1.05,"p":0.63},{"t":1.05,"p":0.642},{"t":1.05,"p":0.654},
{"t":1.07,"p":0.516},{"t":1.07,"p":0.528},{"t":1.07,"p":0.54},{"t":1.07,"p":0.552},{"t":1.07,"p":0.564},{"t":1.07,"p":0.576},{"t":1.07,"p":0.588},{"t":1.07,"p":0.6},{"t":1.07,"p":0.612},{"t":1.07,"p":0.624},{"t":1.07,"p":0.636},{"t":1.07,"p":0.648},{"t":1.07,"p":0.66},
{"t":1.09,"p":0.514},{"t":1.09,"p":0.526},{"t":1.09,"p":0.538},{"t":1.09,"p":0.55},{"t":1.09,"p":0.562},{"t":1.09,"p":0.574},{"t":1.09,"p":0.586},{"t":1.09,"p":0.598},{"t":1.09,"p":0.61},{"t":1.09,"p":0.622},{"t":1.09,"p":0.634},{"t":1.09,"p":0.646},{"t":1.09,"p":0.658},{"t":1.09,"p":0.667},
{"t":1.11,"p":0.52},{"t":1.11,"p":0.532},{"t":1.11,"p":0.544},{"t":1.11,"p":0.556},{"t":1.11,"p":0.568},{"t":1.11,"p":0.58},{"t":1.11,"p":0.592},{"t":1.11,"p":0.604},{"t":1.11,"p":0.616},{"t":1.11,"p":0.628},{"t":1.11,"p":0.64},{"t":1.11,"p":0.652},{"t":1.11,"p":0.664},{"t":1.11,"p":0.672},
{"t":1.13,"p":0.518},{"t":1.13,"p":0.53},{"t":1.13,"p":0.542},{"t":1.13,"p":0.554},{"t":1.13,"p":0.566},{"t":1.13,"p":0.578},{"t":1.13,"p":0.59},{"t":1.13,"p":0.602},{"t":1.13,"p":0.614},{"t":1.13,"p":0.626},{"t":1.13,"p":0.638},{"t":1.13,"p":0.65},{"t":1.13,"p":0.662},{"t":1.13,"p":0.674},
{"t":1.15,"p":0.524},{"t":1.15,"p":0.536},{"t":1.15,"p":0.548},{"t":1.15,"p":0.56},{"t":1.15,"p":0.572},{"t":1.15,"p":0.584},{"t":1.15,"p":0.596},{"t":1.15,"p":0.608},{"t":1.15,"p":0.62},{"t":1.15,"p":0.632},{"t":1.15,"p":0.644},{"t":1.15,"p":0.656},{"t":1.15,"p":0.668},{"t":1.15,"p":0.68},
{"t":1.17,"p":0.528},{"t":1.17,"p":0.54},{"t":1.17,"p":0.552},{"t":1.17,"p":0.564},{"t":1.17,"p":0.576},{"t":1.17,"p":0.588},{"t":1.17,"p":0.6},{"t":1.17,"p":0.612},{"t":1.17,"p":0.624},{"t":1.17,"p":0.636},{"t":1.17,"p":0.648},{"t":1.17,"p":0.66},{"t":1.17,"p":0.672},{"t":1.17,"p":0.684},{"t":1.17,"p":0.69},
{"t":1.19,"p":0.534},{"t":1.19,"p":0.546},{"t":1.19,"p":0.558},{"t":1.19,"p":0.57},{"t":1.19,"p":0.582},{"t":1.19,"p":0.594},{"t":1.19,"p":0.606},{"t":1.19,"p":0.618},{"t":1.19,"p":0.63},{"t":1.19,"p":0.642},{"t":1.19,"p":0.654},{"t":1.19,"p":0.666},{"t":1.19,"p":0.678},{"t":1.19,"p":0.69},{"t":1.19,"p":0.697},
{"t":1.21,"p":0.538},{"t":1.21,"p":0.55},{"t":1.21,"p":0.562},{"t":1.21,"p":0.574},{"t":1.21,"p":0.586},{"t":1.21,"p":0.598},{"t":1.21,"p":0.61},{"t":1.21,"p":0.622},{"t":1.21,"p":0.634},{"t":1.21,"p":0.646},{"t":1.21,"p":0.658},{"t":1.21,"p":0.67},{"t":1.21,"p":0.682},{"t":1.21,"p":0.694},{"t":1.21,"p":0.705},
{"t":1.23,"p":0.55},{"t":1.23,"p":0.562},{"t":1.23,"p":0.574},{"t":1.23,"p":0.586},{"t":1.23,"p":0.598},{"t":1.23,"p":0.61},{"t":1.23,"p":0.622},{"t":1.23,"p":0.634},{"t":1.23,"p":0.646},{"t":1.23,"p":0.658},{"t":1.23,"p":0.67},{"t":1.23,"p":0.682},{"t":1.23,"p":0.694},{"t":1.23,"p":0.706},{"t":1.23,"p":0.714},
{"t":1.25,"p":0.566},{"t":1.25,"p":0.578},{"t":1.25,"p":0.59},{"t":1.25,"p":0.602},{"t":1.25,"p":0.614},{"t":1.25,"p":0.626},{"t":1.25,"p":0.638},{"t":1.25,"p":0.65},{"t":1.25,"p":0.662},{"t":1.25,"p":0.674},{"t":1.25,"p":0.686},{"t":1.25,"p":0.698},{"t":1.25,"p":0.71},{"t":1.25,"p":0.72},
{"t":1.27,"p":0.572},{"t":1.27,"p":0.584},{"t":1.27,"p":0.596},{"t":1.27,"p":0.608},{"t":1.27,"p":0.62},{"t":1.27,"p":0.632},{"t":1.27,"p":0.644},{"t":1.27,"p":0.656},{"t":1.27,"p":0.668},{"t":1.27,"p":0.68},{"t":1.27,"p":0.692},{"t":1.27,"p":0.704},{"t":1.27,"p":0.716},{"t":1.27,"p":0.726},
{"t":1.29,"p":0.58},{"t":1.29,"p":0.592},{"t":1.29,"p":0.604},{"t":1.29,"p":0.616},{"t":1.29,"p":0.628},{"t":1.29,"p":0.64},{"t":1.29,"p":0.652},{"t":1.29,"p":0.664},{"t":1.29,"p":0.676},{"t":1.29,"p":0.688},{"t":1.29,"p":0.7},{"t":1.29,"p":0.712},{"t":1.29,"p":0.724},{"t":1.29,"p":0.734},
{"t":1.31,"p":0.594},{"t":1.31,"p":0.606},{"t":1.31,"p":0.618},{"t":1.31,"p":0.63},{"t":1.31,"p":0.642},{"t":1.31,"p":0.654},{"t":1.31,"p":0.666},{"t":1.31,"p":0.678},{"t":1.31,"p":0.69},{"t":1.31,"p":0.702},{"t":1.31,"p":0.714},{"t":1.31,"p":0.726},{"t":1.31,"p":0.738},
{"t":1.33,"p":0.598},{"t":1.33,"p":0.61},{"t":1.33,"p":0.622},{"t":1.33,"p":0.634},{"t":1.33,"p":0.646},{"t":1.33,"p":0.658},{"t":1.33,"p":0.67},{"t":1.33,"p":0.682},{"t":1.33,"p":0.694},{"t":1.33,"p":0.706},{"t":1.33,"p":0.718},{"t":1.33,"p":0.73},{"t":1.33,"p":0.742},
{"t":1.35,"p":0.602},{"t":1.35,"p":0.614},{"t":1.35,"p":0.626},{"t":1.35,"p":0.638},{"t":1.35,"p":0.65},{"t":1.35,"p":0.662},{"t":1.35,"p":0.674},{"t":1.35,"p":0.686},{"t":1.35,"p":0.698},{"t":1.35,"p":0.71},{"t":1.35,"p":0.722},{"t":1.35,"p":0.734},{"t":1.35,"p":0.746},
{"t":1.37,"p":0.608},{"t":1.37,"p":0.62},{"t":1.37,"p":0.632},{"t":1.37,"p":0.644},{"t":1.37,"p":0.656},{"t":1.37,"p":0.668},{"t":1.37,"p":0.68},{"t":1.37,"p":0.692},{"t":1.37,"p":0.704},{"t":1.37,"p":0.716},{"t":1.37,"p":0.728},{"t":1.37,"p":0.74},{"t":1.37,"p":0.75},
{"t":1.39,"p":0.612},{"t":1.39,"p":0.624},{"t":1.39,"p":0.636},{"t":1.39,"p":0.648},{"t":1.39,"p":0.66},{"t":1.39,"p":0.672},{"t":1.39,"p":0.684},{"t":1.39,"p":0.696},{"t":1.39,"p":0.708},{"t":1.39,"p":0.72},{"t":1.39,"p":0.732},{"t":1.39,"p":0.744},{"t":1.39,"p":0.754},
{"t":1.41,"p":0.618},{"t":1.41,"p":0.63},{"t":1.41,"p":0.642},{"t":1.41,"p":0.654},{"t":1.41,"p":0.666},{"t":1.41,"p":0.678},{"t":1.41,"p":0.69},{"t":1.41,"p":0.702},{"t":1.41,"p":0.714},{"t":1.41,"p":0.726},{"t":1.41,"p":0.738},{"t":1.41,"p":0.75},{"t":1.41,"p":0.758},
{"t":1.43,"p":0.628},{"t":1.43,"p":0.64},{"t":1.43,"p":0.652},{"t":1.43,"p":0.664},{"t":1.43,"p":0.676},{"t":1.43,"p":0.688},{"t":1.43,"p":0.7},{"t":1.43,"p":0.712},{"t":1.43,"p":0.724},{"t":1.43,"p":0.736},{"t":1.43,"p":0.748},{"t":1.43,"p":0.758},
{"t":1.45,"p":0.644},{"t":1.45,"p":0.656},{"t":1.45,"p":0.668},{"t":1.45,"p":0.68},{"t":1.45,"p":0.692},{"t":1.45,"p":0.704},{"t":1.45,"p":0.716},{"t":1.45,"p":0.728},{"t":1.45,"p":0.74},{"t":1.45,"p":0.752},{"t":1.45,"p":0.76},
{"t":1.47,"p":0.654},{"t":1.47,"p":0.666},{"t":1.47,"p":0.678},{"t":1.47,"p":0.69},{"t":1.47,"p":0.702},{"t":1.47,"p":0.714},{"t":1.47,"p":0.726},{"t":1.47,"p":0.738},{"t":1.47,"p":0.75},{"t":1.47,"p":0.762},
{"t":1.49,"p":0.66},{"t":1.49,"p":0.672},{"t":1.49,"p":0.684},{"t":1.49,"p":0.696},{"t":1.49,"p":0.708},{"t":1.49,"p":0.72},{"t":1.49,"p":0.732},{"t":1.49,"p":0.744},{"t":1.49,"p":0.756},{"t":1.49,"p":0.764},
{"t":1.5125,"p":0.668},{"t":1.5125,"p":0.68},{"t":1.5125,"p":0.692},{"t":1.5125,"p":0.704},{"t":1.5125,"p":0.716},{"t":1.5125,"p":0.728},{"t":1.5125,"p":0.74},{"t":1.5125,"p":0.752},{"t":1.5125,"p":0.762},
{"t":1.5375,"p":0.67},{"t":1.5375,"p":0.682},{"t":1.5375,"p":0.694},{"t":1.5375,"p":0.706},{"t":1.5375,"p":0.718},{"t":1.5375,"p":0.73},{"t":1.5375,"p":0.742},{"t":1.5375,"p":0.754},{"t":1.5375,"p":0.764},
{"t":1.5625,"p":0.672},{"t":1.5625,"p":0.684},{"t":1.5625,"p":0.696},{"t":1.5625,"p":0.708},{"t":1.5625,"p":0.72},{"t":1.5625,"p":0.732},{"t":1.5625,"p":0.744},{"t":1.5625,"p":0.756},{"t":1.5625,"p":0.766},
{"t":1.5875,"p":0.676},{"t":1.5875,"p":0.688},{"t":1.5875,"p":0.7},{"t":1.5875,"p":0.712},{"t":1.5875,"p":0.724},{"t":1.5875,"p":0.736},{"t":1.5875,"p":0.748},{"t":1.5875,"p":0.76},{"t":1.5875,"p":0.769},
{"t":1.6125,"p":0.676},{"t":1.6125,"p":0.688},{"t":1.6125,"p":0.7},{"t":1.6125,"p":0.712},{"t":1.6125,"p":0.724},{"t":1.6125,"p":0.736},{"t":1.6125,"p":0.748},{"t":1.6125,"p":0.76},{"t":1.6125,"p":0.77},
{"t":1.6375,"p":0.68},{"t":1.6375,"p":0.692},{"t":1.6375,"p":0.704},{"t":1.6375,"p":0.716},{"t":1.6375,"p":0.728},{"t":1.6375,"p":0.74},{"t":1.6375,"p":0.752},{"t":1.6375,"p":0.764},{"t":1.6375,"p":0.773},
{"t":1.6625,"p":0.68},{"t":1.6625,"p":0.692},{"t":1.6625,"p":0.704},{"t":1.6625,"p":0.716},{"t":1.6625,"p":0.728},{"t":1.6625,"p":0.74},{"t":1.6625,"p":0.752},{"t":1.6625,"p":0.764},{"t":1.6625,"p":0.774},
{"t":1.6875,"p":0.686},{"t":1.6875,"p":0.698},{"t":1.6875,"p":0.71},{"t":1.6875,"p":0.722},{"t":1.6875,"p":0.734},{"t":1.6875,"p":0.746},{"t":1.6875,"p":0.758},{"t":1.6875,"p":0.77},{"t":1.6875,"p":0.777},
{"t":1.7125,"p":0.686},{"t":1.7125,"p":0.698},{"t":1.7125,"p":0.71},{"t":1.7125,"p":0.722},{"t":1.7125,"p":0.734},{"t":1.7125,"p":0.746},{"t":1.7125,"p":0.758},{"t":1.7125,"p":0.77},{"t":1.7125,"p":0.778},
{"t":1.7375,"p":0.69},{"t":1.7375,"p":0.702},{"t":1.7375,"p":0.714},{"t":1.7375,"p":0.726},{"t":1.7375,"p":0.738},{"t":1.7375,"p":0.75},{"t":1.7375,"p":0.762},{"t":1.7375,"p":0.774},{"t":1.7375,"p":0.78},
{"t":1.7625,"p":0.694},{"t":1.7625,"p":0.706},{"t":1.7625,"p":0.718},{"t":1.7625,"p":0.73},{"t":1.7625,"p":0.742},{"t":1.7625,"p":0.754},{"t":1.7625,"p":0.766},{"t":1.7625,"p":0.778},
{"t":1.7875,"p":0.71},{"t":1.7875,"p":0.722},{"t":1.7875,"p":0.734},{"t":1.7875,"p":0.746},{"t":1.7875,"p":0.758},{"t":1.7875,"p":0.77},{"t":1.7875,"p":0.782},
{"t":1.8125,"p":0.728},{"t":1.8125,"p":0.74},{"t":1.8125,"p":0.752},{"t":1.8125,"p":0.764},{"t":1.8125,"p":0.776},{"t":1.8125,"p":0.785},
{"t":1.8375,"p":0.734},{"t":1.8375,"p":0.746},{"t":1.8375,"p":0.758},{"t":1.8375,"p":0.77},{"t":1.8375,"p":0.782},
{"t":1.8625,"p":0.74},{"t":1.8625,"p":0.752},{"t":1.8625,"p":0.764},{"t":1.8625,"p":0.776},{"t":1.8625,"p":0.786},
{"t":1.8875,"p":0.746},{"t":1.8875,"p":0.758},{"t":1.8875,"p":0.77},{"t":1.8875,"p":0.782},
{"t":1.9125,"p":0.75},{"t":1.9125,"p":0.762},{"t":1.9125,"p":0.774},{"t":1.9125,"p":0.786},
{"t":1.9375,"p":0.752},{"t":1.9375,"p":0.764},{"t":1.9375,"p":0.776},{"t":1.9375,"p":0.787},
{"t":1.9625,"p":0.756},{"t":1.9625,"p":0.768},{"t":1.9625,"p":0.78},
{"t":1.9875,"p":0.758},{"t":1.9875,"p":0.77},{"t":1.9875,"p":0.782},
{"t":2.0125,"p":0.762},{"t":2.0125,"p":0.774},{"t":2.0125,"p":0.786},
{"t":2.0375,"p":0.764},{"t":2.0375,"p":0.776},{"t":2.0375,"p":0.788},
{"t":2.0625,"p":0.766},{"t":2.0625,"p":0.778},{"t":2.0625,"p":0.788},
{"t":2.0875,"p":0.768},{"t":2.0875,"p":0.78},
{"t":2.1125,"p":0.768},{"t":2.1125,"p":0.78},{"t":2.1125,"p":0.79},
{"t":2.1375,"p":0.77},{"t":2.1375,"p":0.782},
{"t":2.1625,"p":0.772},{"t":2.1625,"p":0.784},
{"t":2.1875,"p":0.774},{"t":2.1875,"p":0.786},
{"t":2.2125,"p":0.776},{"t":2.2125,"p":0.788},
{"t":2.2375,"p":0.776},{"t":2.2375,"p":0.788},
{"t":2.2625,"p":0.778},{"t":2.2625,"p":0.79},
{"t":2.2875,"p":0.78},{"t":2.2875,"p":0.79},
{"t":2.3125,"p":0.78},{"t":2.3375,"p":0.782},{"t":2.3625,"p":0.784},{"t":2.3875,"p":0.786},
{"t":2.437,"p":0.791},{"t":2.463,"p":0.79},{"t":2.475,"p":0.787},{"t":2.495,"p":0.79},{"t":2.502,"p":0.79},{"t":2.514,"p":0.79},{"t":2.534,"p":0.79},{"t":2.54,"p":0.79},{"t":2.45,"p":0.783},{"t":2.42,"p":0.783},{"t":2.4,"p":0.79},
{"t":1.824,"p":0.845},{"t":1.911,"p":0.845},{"t":1.969,"p":0.845},{"t":2.177,"p":0.851},{"t":2.203,"p":0.849},{"t":2.268,"p":0.849},{"t":2.3,"p":0.849},
{"t":2.38,"p":0.853},{"t":2.385,"p":0.857},{"t":2.385,"p":0.861},{"t":2.39,"p":0.855},
{"t":2.45,"p":0.863},{"t":2.456,"p":0.855},{"t":2.495,"p":0.866},{"t":2.502,"p":0.851},{"t":2.527,"p":0.855},{"t":2.553,"p":0.863},{"t":2.566,"p":0.863},{"t":2.586,"p":0.859},{"t":2.599,"p":0.868},{"t":2.612,"p":0.868},{"t":2.638,"p":0.869},{"t":2.67,"p":0.869},{"t":2.699,"p":0.863},{"t":2.48,"p":0.86},{"t":2.51,"p":0.86},
{"t":1.697,"p":0.791},{"t":1.72,"p":0.791},{"t":1.745,"p":0.793},{"t":1.77,"p":0.791},{"t":1.8,"p":0.791},{"t":1.865,"p":0.798},{"t":1.88,"p":0.798},{"t":1.92,"p":0.798},{"t":2.008,"p":0.797},{"t":2.03,"p":0.797},{"t":2.06,"p":0.797},{"t":2.097,"p":0.797},{"t":1.554,"p":0.775},{"t":1.599,"p":0.775},{"t":1.645,"p":0.778},
{"t":1.327,"p":0.749},{"t":1.372,"p":0.748},{"t":1.29,"p":0.745},
{"t":2.034,"p":0.717},{"t":2.079,"p":0.714},{"t":2.118,"p":0.714},{"t":1.93,"p":0.702},{"t":1.826,"p":0.694},{"t":1.878,"p":0.698},{"t":1.917,"p":0.702},{"t":1.762,"p":0.677},{"t":1.762,"p":0.669},{"t":1.697,"p":0.68},{"t":1.645,"p":0.675},{"t":1.78,"p":0.68},
{"t":1.509,"p":0.643},{"t":1.534,"p":0.643},{"t":1.567,"p":0.643},{"t":1.599,"p":0.643},{"t":1.625,"p":0.643},{"t":1.645,"p":0.643},{"t":1.671,"p":0.645},
{"t":1.359,"p":0.614},{"t":1.385,"p":0.614},{"t":1.444,"p":0.622},{"t":1.483,"p":0.61},{"t":1.45,"p":0.626},{"t":1.489,"p":0.614},{"t":1.281,"p":0.605},
{"t":1.314,"p":0.58},{"t":1.346,"p":0.575},{"t":1.353,"p":0.58},{"t":1.327,"p":0.578},{"t":1.42,"p":0.556}
]},
"mark": {"type": "point", "shape": "M-1,0A1,0.62,0,1,0,1,0A1,0.62,0,1,0,-1,0Z", "filled": false, "stroke": "#000", "strokeWidth": 1.7, "size": 135, "opacity": 1},
"encoding": {
"x": {"field": "t", "type": "quantitative", "scale": {"domain": [0.033, 2.765], "nice": false, "zero": false},
 "axis": {"orient": "bottom", "values": [0.5, 1, 1.5, 2, 2.5], "format": ".1f", "title": "Predictive median survival time (years)", "titleFont": "Liberation Sans", "titleFontSize": 20, "titleFontWeight": "normal", "titleColor": "#000", "titleX": 355.5, "titleY": 65.7, "titleBaseline": "middle", "titleAlign": "center", "labelFont": "Liberation Sans", "labelFontSize": 17, "labelColor": "#000", "labelPadding": 12, "labelFlush": false, "labelOverlap": false, "tickSize": 9, "tickColor": "#333", "tickWidth": 1, "domain": true, "domainColor": "#444", "domainWidth": 1, "grid": false}},
"y": {"field": "p", "type": "quantitative", "scale": {"domain": [-0.0356, 0.9041], "nice": false, "zero": false},
 "axis": {"orient": "left", "values": [0, 0.2, 0.4, 0.6, 0.8], "format": ".1f", "title": "Predictive 1−year survival probability", "titleFont": "Liberation Sans", "titleFontSize": 16, "titleFontWeight": "normal", "titleColor": "#000", "titleAngle": -90, "titleX": -110.5, "titleY": 185, "titleBaseline": "middle", "titleAlign": "center", "labelFont": "Liberation Sans", "labelAngle": -90, "labelAlign": "center", "labelBaseline": "alphabetic", "labelFontSize": 17, "labelColor": "#000", "labelPadding": 20.5, "labelFlush": false, "labelOverlap": false, "tickSize": 16, "tickColor": "#333", "tickWidth": 1, "domain": true, "domainColor": "#444", "domainWidth": 1, "grid": false}}
}
}
]
}
